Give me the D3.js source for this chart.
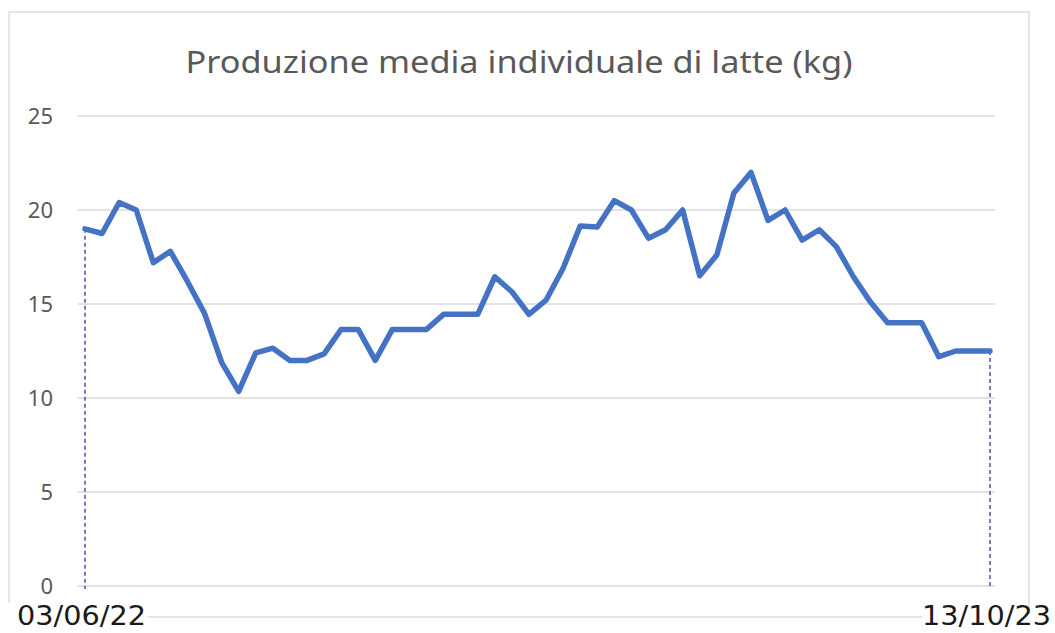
<!DOCTYPE html>
<html>
<head>
<meta charset="utf-8">
<script src="https://cdn.jsdelivr.net/npm/d3@7"></script>
<style>
  body { margin: 0; background: #fff; }
  svg { display: block; font-family: "Noto Sans", sans-serif; }
  .grid line { stroke: #d9d9d9; stroke-width: 1.3; }
  .line { fill: none; stroke: #4472c4; stroke-width: 5.5; stroke-linejoin: round; stroke-linecap: round; }
  .drop { stroke: #4f4f9e; stroke-width: 1.5; stroke-dasharray: 4 3; }
</style>
</head>
<body>
<svg></svg>
<script>
// values, one per sample (54 samples)
var values = [19.0, 18.75, 20.4, 20.0, 17.2, 17.8, 16.2, 14.5, 11.9, 10.35,
  12.4, 12.65, 12.0, 12.0, 12.35, 13.65, 13.65, 12.0, 13.65, 13.65,
  13.65, 14.45, 14.45, 14.45, 16.45, 15.65, 14.45, 15.2, 16.9, 19.15,
  19.1, 20.5, 20.0, 18.5, 18.95, 20.0, 16.5, 17.6, 20.9, 22.0,
  19.45, 20.0, 18.4, 18.95, 18.05, 16.45, 15.1, 14.0, 14.0, 14.0,
  12.2, 12.5, 12.5, 12.5];
var firstDate = "03/06/22";
var lastDate = "13/10/23";
var yTicks = [0, 5, 10, 15, 20, 25];
var title = "Produzione media individuale di latte (kg)";

var width = 1055, height = 633;
var svg = d3.select("svg").attr("width", width).attr("height", height);

var x = d3.scaleLinear().domain([0, values.length - 1]).range([85, 990]);
var y = d3.scaleLinear().domain([0, 25]).range([586, 116]);

// chart frame
svg.append("rect")
  .attr("x", 9).attr("y", 12).attr("width", 1020).attr("height", 605)
  .attr("fill", "#fff").attr("stroke", "#d9d9d9").attr("stroke-width", 1.3);

svg.append("text")
  .attr("x", 519).attr("y", 73)
  .attr("text-anchor", "middle")
  .attr("font-size", 31)
  .attr("textLength", 667)
  .attr("lengthAdjust", "spacingAndGlyphs")
  .attr("fill", "#595959")
  .text(title);

// horizontal gridlines
svg.append("g").attr("class", "grid")
  .selectAll("line").data(yTicks).join("line")
  .attr("x1", 78).attr("x2", 995)
  .attr("y1", d => y(d)).attr("y2", d => y(d));

var yAxis = svg.append("g")
  .attr("transform", "translate(56,0)")
  .call(d3.axisLeft(y).tickValues(yTicks).tickSize(0).tickPadding(3));
yAxis.select(".domain").remove();
yAxis.selectAll("text")
  .attr("font-family", "Noto Sans")
  .attr("font-size", 22)
  .attr("fill", "#595959");

// drop lines at both ends
var ends = [0, values.length - 1];
svg.selectAll(".drop").data(ends).join("line")
  .attr("class", "drop")
  .attr("x1", d => x(d)).attr("x2", d => x(d))
  .attr("y1", d => y(values[d])).attr("y2", y(0) + 3);

var line = d3.line()
  .x((d, i) => x(i))
  .y(d => y(d));

svg.append("path")
  .attr("class", "line")
  .attr("d", line(values));

// end labels with white boxes over the frame
var labels = [{ t: firstDate, a: "start", lx: 17 }, { t: lastDate, a: "end", lx: 1051 }];
var lg = svg.selectAll(".endlab").data(labels).join("g").attr("class", "endlab");
lg.append("rect")
  .attr("x", d => d.a === "start" ? 0 : 922)
  .attr("y", d => d.a === "start" ? 603 : 610)
  .attr("width", d => d.a === "start" ? 148 : 133)
  .attr("height", 30)
  .attr("fill", "#fff");
lg.append("text")
  .attr("x", d => d.lx)
  .attr("y", 625)
  .attr("text-anchor", d => d.a)
  .attr("font-family", "DejaVu Sans")
  .attr("font-size", 27)
  .attr("textLength", 129)
  .attr("lengthAdjust", "spacingAndGlyphs")
  .attr("fill", "#1a1a1a")
  .text(d => d.t);
</script>
</body>
</html>
